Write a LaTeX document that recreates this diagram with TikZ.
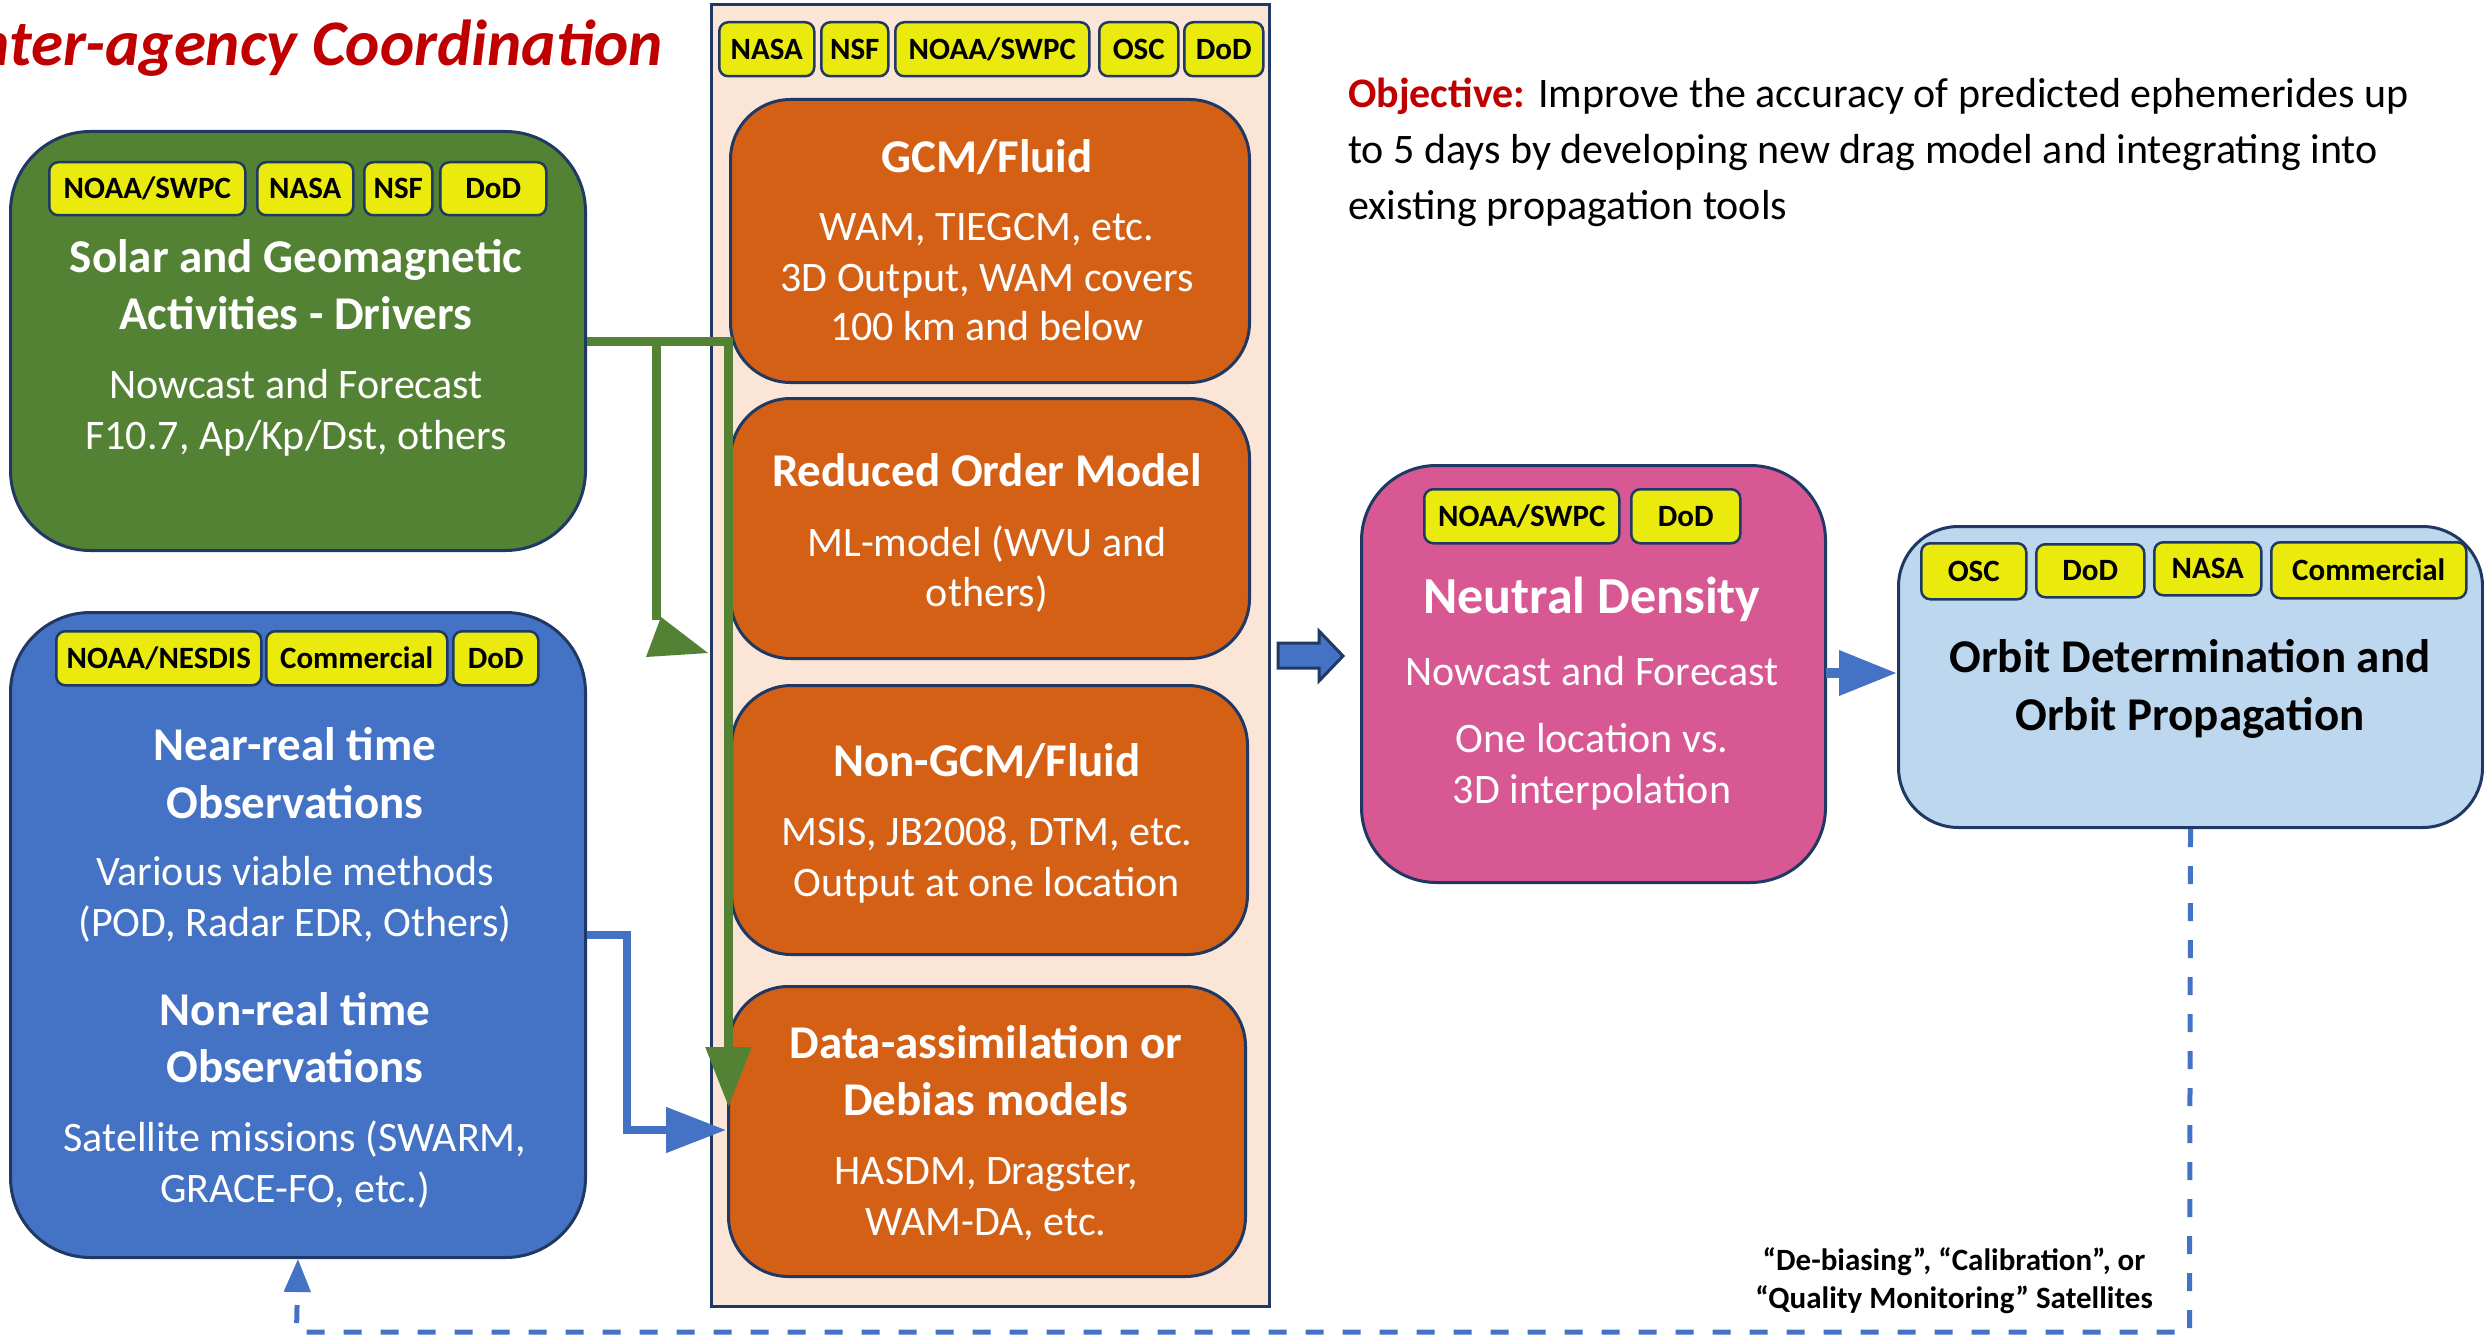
\documentclass[tikz,border=0pt]{standalone}
\usepackage{fontspec}
\setmainfont{Carlito}
\usetikzlibrary{arrows.meta}
\definecolor{navy}{RGB}{31,56,100}
\definecolor{gfill}{RGB}{84,130,53}
\definecolor{bfill}{RGB}{68,114,196}
\definecolor{ofill}{RGB}{212,96,22}
\definecolor{pfill}{RGB}{216,88,147}
\definecolor{lbfill}{RGB}{189,215,238}
\definecolor{peach}{RGB}{251,229,214}
\definecolor{tagyellow}{RGB}{234,234,12}
\definecolor{titlered}{RGB}{192,0,0}
\newcommand\fhead{\fontsize{47}{56}\selectfont\bfseries}
\newcommand\fbig{\fontsize{52}{62}\selectfont\bfseries}
\newcommand\fbody{\fontsize{42}{50}\selectfont}
\newcommand\ftag{\fontsize{31}{37}\selectfont\bfseries}
\tikzset{
  panel/.style={draw=navy, line width=3pt, rounded corners=#1, anchor=north west, inner sep=0pt},
  tagbox/.style={draw=navy, line width=2.5pt, fill=tagyellow, rounded corners=9pt, inner sep=0pt,
     font=\ftag, text height=20pt, text depth=0pt, anchor=north west},
  wt/.style={text=white, anchor=base, inner sep=0pt},
  kt/.style={text=black, anchor=base, inner sep=0pt},
  garrow/.style={draw=gfill, line width=9pt, -{Triangle[width=44pt,length=60pt]}},
  gline/.style={draw=gfill, line width=9pt},
  barrow/.style={draw=bfill, line width=8pt, -{Triangle[width=44pt,length=60pt]}},
  barrowthick/.style={draw=bfill, line width=10pt, -{Triangle[width=43pt,length=58pt]}},
  dashline/.style={draw=bfill, line width=5pt, dash pattern=on 18pt off 19pt, -{Triangle[width=26pt,length=33pt]}},
}
\begin{document}
\begin{tikzpicture}[x=1pt,y=-1pt]
\useasboundingbox (0,0) rectangle (2484,1340);
\fill[white] (0,0) rectangle (2484,1340);

% title
\node[anchor=base east, inner sep=0pt, text=titlered,
      font=\fontsize{65}{72}\selectfont\bfseries\itshape] (title) at (663,66) {Inter-agency Coordination};

% objective
\node[anchor=base west, inner sep=0pt, font=\fbody] (obj1) at (1348,108)
  {\textcolor{titlered}{\bfseries Objective:} Improve the accuracy of predicted ephemerides up};
\node[anchor=base west, inner sep=0pt, font=\fbody] (obj2) at (1348,164)
  {to 5 days by developing new drag model and integrating into};
\node[anchor=base west, inner sep=0pt, font=\fbody] (obj3) at (1348,220)
  {existing propagation tools};

% container
\node[draw=navy, line width=3pt, fill=peach, anchor=north west, inner sep=0pt,
      minimum width=558pt, minimum height=1302pt] (cont) at (710,3) {};
\node[tagbox, minimum width=95pt, minimum height=54pt] (ct1) at (718,21) {NASA};
\node[tagbox, minimum width=67pt, minimum height=54pt] (ct2) at (820,21) {NSF};
\node[tagbox, minimum width=194pt, minimum height=54pt] (ct3) at (894,21) {NOAA/SWPC};
\node[tagbox, minimum width=79pt, minimum height=54pt] (ct4) at (1098,21) {OSC};
\node[tagbox, minimum width=79pt, minimum height=54pt] (ct5) at (1183,21) {DoD};

% orange boxes
\node[panel=60pt, fill=ofill, minimum width=519pt, minimum height=283pt] (gcm) at (729,98) {};
\node[panel=60pt, fill=ofill, minimum width=519pt, minimum height=260pt] (rom) at (729,397) {};
\node[panel=60pt, fill=ofill, minimum width=516pt, minimum height=269pt] (ngcm) at (730,684) {};
\node[panel=60pt, fill=ofill, minimum width=517pt, minimum height=290pt] (da) at (727,985) {};

\node[wt, font=\fhead] (gcm1) at (987,173) {GCM/Fluid};
\node[wt, font=\fbody] (gcm2) at (987,241) {WAM, TIEGCM, etc.};
\node[wt, font=\fbody] (gcm3) at (987,291) {3D Output, WAM covers};
\node[wt, font=\fbody] (gcm4) at (987,341) {100 km and below};

\node[wt, font=\fhead] (rom1) at (987,486) {Reduced Order Model};
\node[wt, font=\fbody] (rom2) at (987,556) {ML-model (WVU and};
\node[wt, font=\fbody] (rom3) at (987,606) {others)};

\node[wt, font=\fhead] (ngcm1) at (987,776) {Non-GCM/Fluid};
\node[wt, font=\fbody] (ngcm2) at (987,845) {MSIS, JB2008, DTM, etc.};
\node[wt, font=\fbody] (ngcm3) at (987,896) {Output at one location};

\node[wt, font=\fhead] (da1) at (986,1058) {Data-assimilation or};
\node[wt, font=\fhead] (da2) at (986,1115) {Debias models};
\node[wt, font=\fbody] (da3) at (986,1184) {HASDM, Dragster,};
\node[wt, font=\fbody] (da4) at (986,1235) {WAM-DA, etc.};

% green box
\node[panel=80pt, fill=gfill, minimum width=575pt, minimum height=419pt] (solar) at (9,130) {};
\node[tagbox, minimum width=196pt, minimum height=53pt] (st1) at (48,161) {NOAA/SWPC};
\node[tagbox, minimum width=96pt, minimum height=53pt] (st2) at (256,161) {NASA};
\node[tagbox, minimum width=68pt, minimum height=53pt] (st3) at (363,161) {NSF};
\node[tagbox, minimum width=106pt, minimum height=53pt] (st4) at (439,161) {DoD};
\node[wt, font=\fhead] (s1) at (296,273) {Solar and Geomagnetic};
\node[wt, font=\fhead] (s2) at (296,330) {Activities - Drivers};
\node[wt, font=\fbody] (s3) at (296,398) {Nowcast and Forecast};
\node[wt, font=\fbody] (s4) at (296,449) {F10.7, Ap/Kp/Dst, others};

% blue box
\node[panel=80pt, fill=bfill, minimum width=575pt, minimum height=645pt] (obs) at (9,611) {};
\node[tagbox, minimum width=205pt, minimum height=54pt] (bt1) at (55,630) {NOAA/NESDIS};
\node[tagbox, minimum width=181pt, minimum height=54pt] (bt2) at (265,630) {Commercial};
\node[tagbox, minimum width=85pt, minimum height=54pt] (bt3) at (452,630) {DoD};
\node[wt, font=\fhead] (o1) at (295,760) {Near-real time};
\node[wt, font=\fhead] (o2) at (295,818) {Observations};
\node[wt, font=\fbody] (o3) at (295,885) {Various viable methods};
\node[wt, font=\fbody] (o4) at (295,936) {(POD, Radar EDR, Others)};
\node[wt, font=\fhead] (o5) at (295,1025) {Non-real time};
\node[wt, font=\fhead] (o6) at (295,1082) {Observations};
\node[wt, font=\fbody] (o7) at (295,1151) {Satellite missions (SWARM,};
\node[wt, font=\fbody] (o8) at (295,1202) {GRACE-FO, etc.)};

% neutral density
\node[panel=75pt, fill=pfill, minimum width=464pt, minimum height=417pt] (nd) at (1360,464) {};
\node[tagbox, minimum width=195pt, minimum height=54pt] (nt1) at (1423,488) {NOAA/SWPC};
\node[tagbox, minimum width=109pt, minimum height=54pt] (nt2) at (1630,488) {DoD};
\node[wt, font=\fbig] (n1) at (1592,613) {Neutral Density};
\node[wt, font=\fbody] (n2) at (1592,685) {Nowcast and Forecast};
\node[wt, font=\fbody] (n3) at (1592,752) {One location vs.};
\node[wt, font=\fbody] (n4) at (1592,803) {3D interpolation};

% orbit
\node[panel=60pt, fill=lbfill, minimum width=584pt, minimum height=301pt] (orb) at (1897,525) {};
\node[tagbox, minimum width=105pt, minimum height=56pt] (ot1) at (1920,542) {OSC};
\node[tagbox, minimum width=108pt, minimum height=53pt] (ot2) at (2035,543) {DoD};
\node[tagbox, minimum width=107pt, minimum height=53pt] (ot3) at (2153,541) {NASA};
\node[tagbox, minimum width=195pt, minimum height=56pt] (ot4) at (2270,541) {Commercial};
\node[kt, font=\fhead] (b1) at (2190,672) {Orbit Determination and};
\node[kt, font=\fhead] (b2) at (2190,730) {Orbit Propagation};

% dashed label
\node[kt, font=\fontsize{31}{37}\selectfont\bfseries] (l1) at (1954,1270) {“De-biasing”, “Calibration”, or};
\node[kt, font=\fontsize{31}{37}\selectfont\bfseries] (l2) at (1954,1308) {“Quality Monitoring” Satellites};

% connectors
\coordinate (gtip) at (728.5,1107);
\draw[garrow] (solar.east) -| (gtip);
\coordinate (gbr) at (656.5,339.5);
\coordinate (gbrend) at (656.5,620);
\draw[gline] (gbr) -- (gbrend);
\fill[gfill] (661,617) -- (646,657) -- (708,653) -- cycle;

\coordinate (btip) at (726,1130);
\draw[barrow] (obs.east) -- ++(40,0) |- (btip);

\draw[draw=navy, line width=3pt, fill=bfill, line join=miter]
  (1278,643) -- (1319,643) -- (1319,631) -- (1343,656) -- (1319,681) -- (1319,668) -- (1278,668) -- cycle;

\coordinate (ndout) at (1826,673);
\coordinate (orbin) at (1897,673);
\draw[barrowthick] (ndout) -- (orbin);

\coordinate (dcorner) at (2189.5,1332);
\coordinate (dleft) at (296.5,1332);
\draw[dashline] (orb.south) -- (dcorner) -- (dleft) -- (obs.south);
\end{tikzpicture}
\end{document}
